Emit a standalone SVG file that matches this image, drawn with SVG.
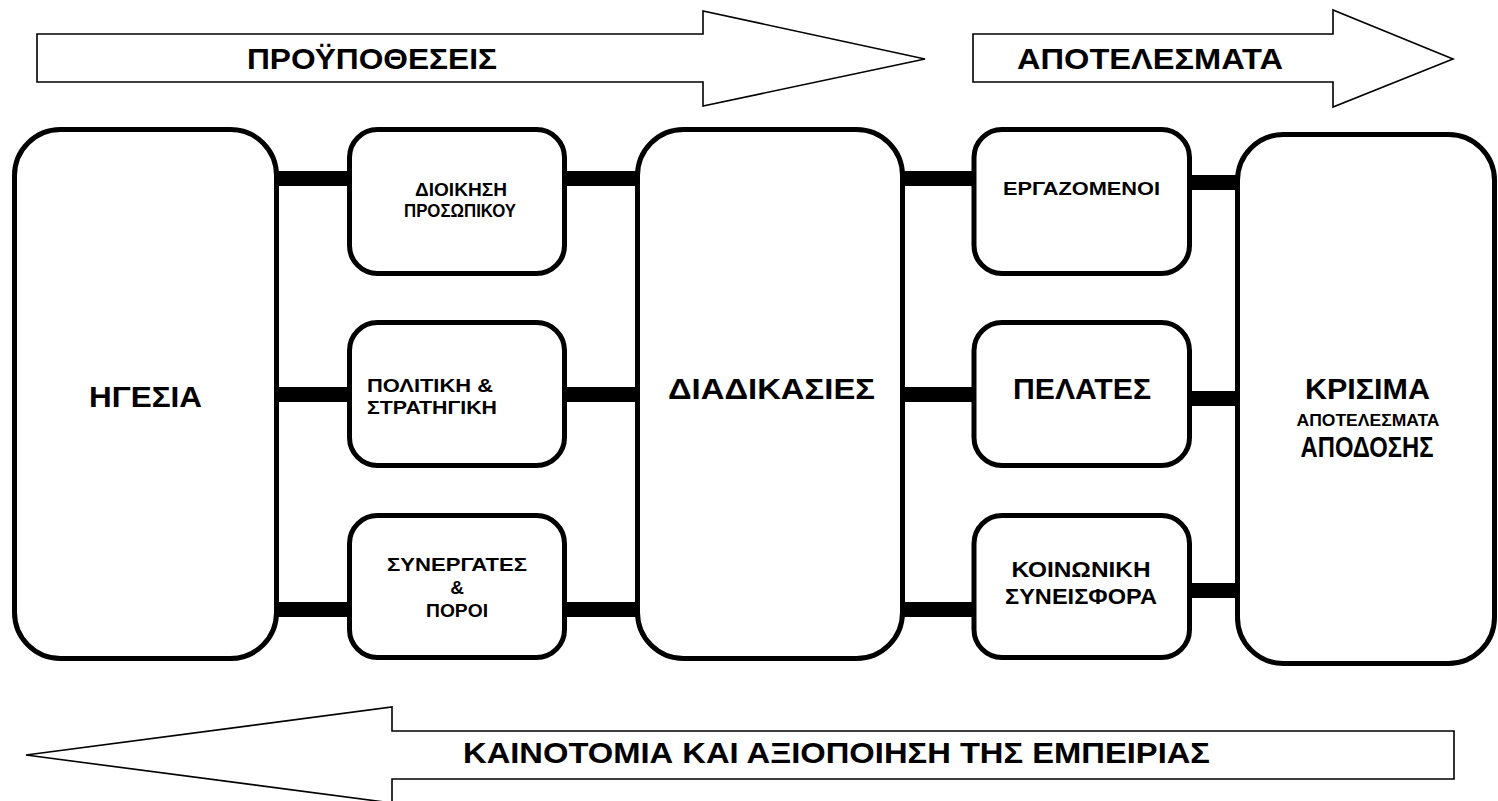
<svg xmlns="http://www.w3.org/2000/svg" width="1498" height="801" viewBox="0 0 1498 801">
<style>
.box{fill:#fff;stroke:#000;stroke-width:5}
.arr{fill:#fff;stroke:#000;stroke-width:1.6;stroke-linejoin:miter}
.bar{fill:#000}
text{font-family:"Liberation Sans",Arial,sans-serif;font-weight:bold;fill:#000;text-anchor:middle}
.big{font-size:29px}
.mid{font-size:22px}
.sm{font-size:18px}
.s19{font-size:19px}
</style>
<rect width="1498" height="801" fill="#fff"/>
<g id="arrow-proypotheseis">
<polygon class="arr" points="37,34 703,34 703,11 925,59 703,106 703,82 37,82"/>
<text x="247" y="69" style="font-size:30px;text-anchor:start" textLength="250" lengthAdjust="spacingAndGlyphs">ΠΡΟΫΠΟΘΕΣΕΙΣ</text>
</g>
<g id="arrow-apotelesmata">
<polygon class="arr" points="973,34 1333,34 1333,10 1453,59 1333,107 1333,82 973,82"/>
<text x="1017" y="69" style="font-size:30px;text-anchor:start" textLength="266" lengthAdjust="spacingAndGlyphs">ΑΠΟΤΕΛΕΣΜΑΤΑ</text>
</g>
<g id="arrow-kainotomia">
<polygon class="arr" points="1454,731 392,731 392,707 26,755 392,803 392,779 1454,779"/>
<text x="463" y="763" style="font-size:30px;text-anchor:start" textLength="747" lengthAdjust="spacingAndGlyphs">ΚΑΙΝΟΤΟΜΙΑ ΚΑΙ ΑΞΙΟΠΟΙΗΣΗ ΤΗΣ ΕΜΠΕΙΡΙΑΣ</text>
</g>
<g id="connectors">
<rect class="bar" x="276" y="171" width="73" height="15"/>
<rect class="bar" x="276" y="387" width="73" height="15"/>
<rect class="bar" x="276" y="602" width="73" height="15"/>
<rect class="bar" x="565" y="171" width="73" height="15"/>
<rect class="bar" x="565" y="387" width="73" height="15"/>
<rect class="bar" x="565" y="602" width="73" height="15"/>
<rect class="bar" x="902" y="171" width="73" height="15"/>
<rect class="bar" x="902" y="387" width="73" height="15"/>
<rect class="bar" x="902" y="602" width="73" height="15"/>
<rect class="bar" x="1189" y="175" width="50" height="15"/>
<rect class="bar" x="1189" y="391" width="50" height="15"/>
<rect class="bar" x="1189" y="583" width="50" height="15"/>
</g>
<g id="hgesia">
<rect class="box" x="14.5" y="129.5" width="262" height="529" rx="46"/>
<text class="big" x="145.5" y="407" textLength="113" lengthAdjust="spacingAndGlyphs">ΗΓΕΣΙΑ</text>
</g>
<g id="dioikisi">
<rect class="box" x="349.5" y="129.5" width="215" height="144" rx="28"/>
<text class="sm" x="461" y="196" textLength="92" lengthAdjust="spacingAndGlyphs">ΔΙΟΙΚΗΣΗ</text>
<text class="sm" x="460" y="217" textLength="112" lengthAdjust="spacingAndGlyphs">ΠΡΟΣΩΠΙΚΟΥ</text>
</g>
<g id="politiki">
<rect class="box" x="349.5" y="322.5" width="215" height="143" rx="28"/>
<text class="s19" x="367" y="392" style="text-anchor:start" textLength="126" lengthAdjust="spacingAndGlyphs">ΠΟΛΙΤΙΚΗ &amp;</text>
<text class="s19" x="367" y="414" style="text-anchor:start" textLength="130" lengthAdjust="spacingAndGlyphs">ΣΤΡΑΤΗΓΙΚΗ</text>
</g>
<g id="synergates">
<rect class="box" x="349.5" y="515.5" width="215" height="142" rx="28"/>
<text class="s19" x="457" y="571" textLength="140" lengthAdjust="spacingAndGlyphs">ΣΥΝΕΡΓΑΤΕΣ</text>
<text class="s19" x="457" y="594">&amp;</text>
<text class="s19" x="457" y="617" textLength="62" lengthAdjust="spacingAndGlyphs">ΠΟΡΟΙ</text>
</g>
<g id="diadikasies">
<rect class="box" x="637.5" y="129.5" width="265" height="529" rx="46"/>
<text class="big" x="771.5" y="399" textLength="207" lengthAdjust="spacingAndGlyphs">ΔΙΑΔΙΚΑΣΙΕΣ</text>
</g>
<g id="ergazomenoi">
<rect class="box" x="974" y="129.5" width="215.5" height="144" rx="28"/>
<text class="s19" x="1081.5" y="195" textLength="157" lengthAdjust="spacingAndGlyphs">ΕΡΓΑΖΟΜΕΝΟΙ</text>
</g>
<g id="pelates">
<rect class="box" x="974" y="322.5" width="215.5" height="143" rx="28"/>
<text class="big" x="1082" y="399" textLength="138" lengthAdjust="spacingAndGlyphs">ΠΕΛΑΤΕΣ</text>
</g>
<g id="koinoniki">
<rect class="box" x="974" y="515.5" width="215.5" height="142" rx="28"/>
<text class="mid" x="1081" y="577" textLength="139" lengthAdjust="spacingAndGlyphs">ΚΟΙΝΩΝΙΚΗ</text>
<text class="mid" x="1081" y="604" textLength="152" lengthAdjust="spacingAndGlyphs">ΣΥΝΕΙΣΦΟΡΑ</text>
</g>
<g id="krisima">
<rect class="box" x="1237.5" y="134.5" width="257" height="529" rx="46"/>
<text class="big" x="1367.5" y="399" textLength="125" lengthAdjust="spacingAndGlyphs">ΚΡΙΣΙΜΑ</text>
<text class="sm" x="1368" y="426" style="font-size:17px" textLength="143" lengthAdjust="spacingAndGlyphs">ΑΠΟΤΕΛΕΣΜΑΤΑ</text>
<text class="big" x="1367" y="457" textLength="133" lengthAdjust="spacingAndGlyphs">ΑΠΟΔΟΣΗΣ</text>
</g>
</svg>
